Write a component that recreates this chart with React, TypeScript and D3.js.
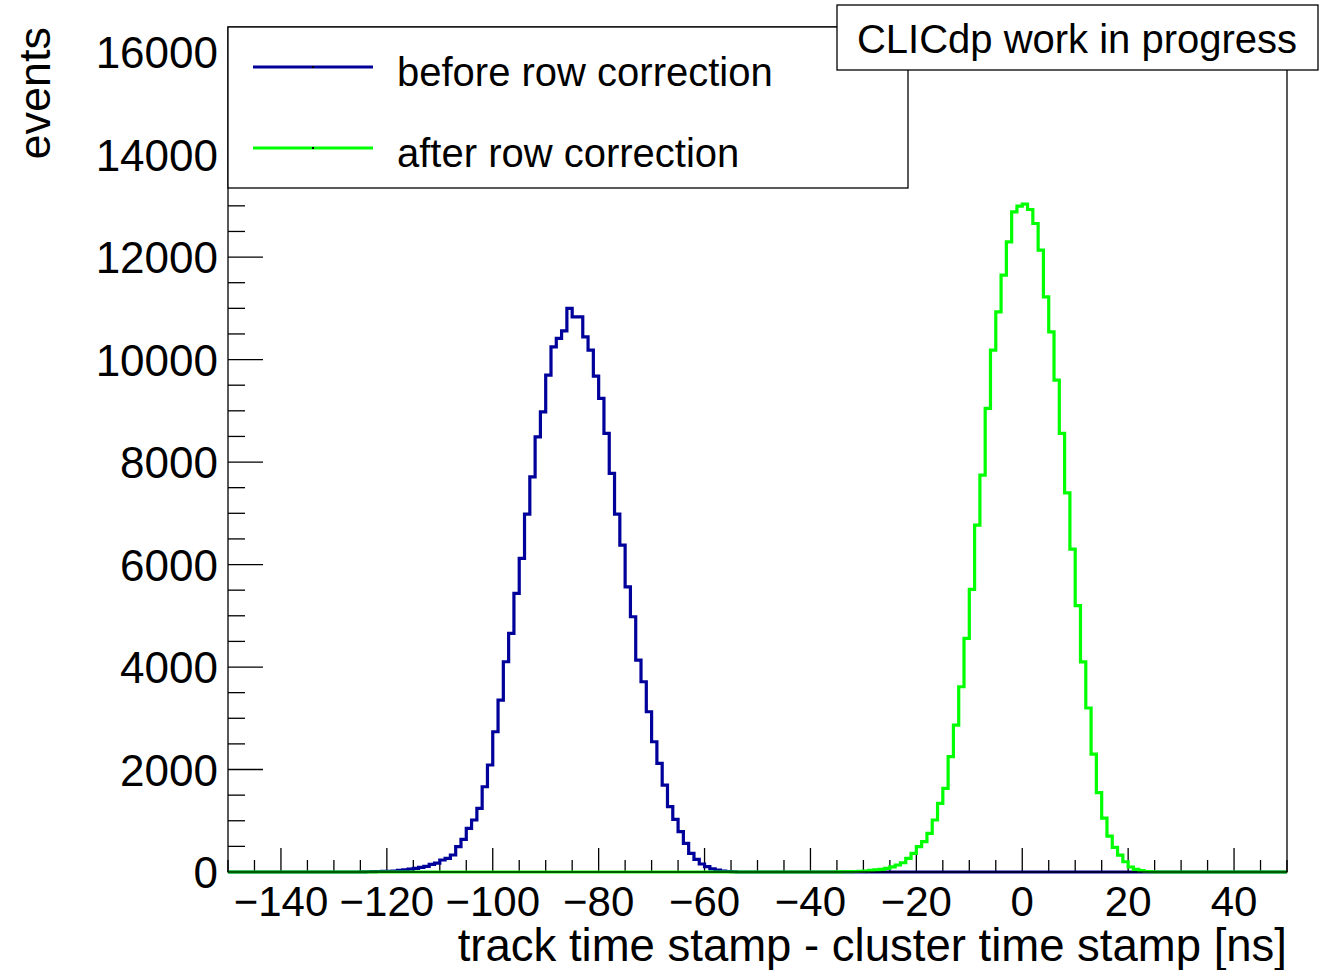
import React from 'react';
import * as d3 from 'd3';

const W = 1320;
const H = 970;
const margin = { top: 27, right: 33, bottom: 98, left: 228 };

// histogram range and bins (1 ns)
const xRange = [-150, 50];
const binWidth = 1;
const yTop = 16490;

// before row correction, first bin edge -125 ns
const beforeStart = -125;
const beforeCounts = [
  3, 5, 8, 10, 12, 15, 20, 30, 40, 55,
  70, 90, 110, 150, 175, 234, 267, 332, 494, 638,
  853, 1015, 1243, 1664, 2088, 2737, 3356, 4103, 4657, 5437,
  6120, 6985, 7712, 8493, 8980, 9696, 10249, 10412, 10561, 10998,
  10834, 10834, 10444, 10184, 9677, 9242, 8559, 7778, 6985, 6380,
  5566, 4981, 4136, 3713, 3127, 2542, 2120, 1697, 1274, 1028,
  786, 560, 365, 248, 156, 103, 60, 35, 20, 10, 5,
];

// after row correction, first bin edge -35 ns
const afterStart = -35;
const afterCounts = [
  3, 5, 8, 10, 15, 20, 30, 40, 50, 70,
  100, 137, 181, 267, 365, 494, 591, 755, 1015, 1340,
  1633, 2250, 2868, 3615, 4559, 5515, 6770, 7746, 9047, 10184,
  10931, 11647, 12297, 12882, 12993, 13033, 12929, 12655, 12135, 11224,
  10541, 9599, 8559, 7400, 6300, 5200, 4100, 3200, 2300, 1550,
  1050, 700, 480, 330, 200, 98, 50, 25, 10, 5,
];

const xMajor = [-140, -120, -100, -80, -60, -40, -20, 0, 20, 40];
const yMajor = [0, 2000, 4000, 6000, 8000, 10000, 12000, 14000, 16000];

const seriesNames = ['before row correction', 'after row correction'];
const seriesColors = ['#00009a', '#00ff00'];

const font = '"Liberation Sans", Arial, Helvetica, sans-serif';

function fullBins(start: number, counts: number[]) {
  const n = Math.round((xRange[1] - xRange[0]) / binWidth);
  const pts: [number, number][] = d3.range(n).map(i => {
    const edge = xRange[0] + i * binWidth;
    const k = Math.round((edge - start) / binWidth);
    return [edge, k >= 0 && k < counts.length ? counts[k] : 0];
  });
  pts.push([xRange[1], pts[pts.length - 1][1]]);
  return pts;
}

const App = () => {
  const x = d3.scaleLinear().domain(xRange).range([margin.left, W - margin.right]);
  const y = d3.scaleLinear().domain([0, yTop]).range([H - margin.bottom, margin.top]);
  const y0 = y(0);

  const line = d3.line<[number, number]>()
    .x(d => x(d[0]))
    .y(d => y(d[1]))
    .curve(d3.curveStepAfter);

  const paths = [fullBins(beforeStart, beforeCounts), fullBins(afterStart, afterCounts)].map(b => line(b) || '');

  const fmt = d3.format('');
  const xMinor = d3.range(xRange[0], xRange[1] + 0.01, 5).filter(v => !xMajor.includes(v));
  const yMinor = d3.range(0, yTop, 500).filter(v => !yMajor.includes(v));

  const legX = margin.left, legY = margin.top, legW = 680, legH = 161;

  return (
    <svg width={W} height={H} style={{ position: 'absolute', left: 0, top: 0, background: '#fff' }} fontFamily={font}>
      <rect x={0} y={0} width={W} height={H} fill="#fff" />

      {/* ticks */}
      {xMajor.map(v => (
        <line key={'xm' + v} x1={x(v)} x2={x(v)} y1={y0} y2={y0 - 24} stroke="#000" strokeWidth={1.3} />
      ))}
      {xMinor.map(v => (
        <line key={'xn' + v} x1={x(v)} x2={x(v)} y1={y0} y2={y0 - 12} stroke="#000" strokeWidth={1.3} />
      ))}
      {yMajor.map(v => (
        <line key={'ym' + v} x1={margin.left} x2={margin.left + 35} y1={y(v)} y2={y(v)} stroke="#000" strokeWidth={1.3} />
      ))}
      {yMinor.map(v => (
        <line key={'yn' + v} x1={margin.left} x2={margin.left + 17} y1={y(v)} y2={y(v)} stroke="#000" strokeWidth={1.3} />
      ))}

      {/* histograms */}
      {paths.map((p, i) => (
        <path key={i} d={p} fill="none" stroke={seriesColors[i]} strokeWidth={3.2} strokeLinejoin="miter" />
      ))}

      {/* frame */}
      <rect x={margin.left} y={margin.top} width={W - margin.left - margin.right} height={H - margin.top - margin.bottom}
        fill="none" stroke="#000" strokeWidth={1.3} />

      {/* tick labels */}
      {yMajor.map(v => (
        <text key={'yl' + v} x={218} y={y(v) + 16} textAnchor="end" fontSize={44} fill="#000">{fmt(v)}</text>
      ))}
      {xMajor.map(v => (
        <text key={'xl' + v} x={x(v)} y={916} textAnchor="middle" fontSize={42} fill="#000">{fmt(v)}</text>
      ))}

      {/* axis titles */}
      <text x={W - margin.right} y={961} textAnchor="end" fontSize={45.5} fill="#000">
        track time stamp - cluster time stamp [ns]
      </text>
      <text transform={`translate(50, ${margin.top}) rotate(-90)`} textAnchor="end" fontSize={45} fill="#000">events</text>

      {/* legend */}
      <rect x={legX} y={legY} width={legW} height={legH} fill="#fff" stroke="#000" strokeWidth={1.3} />
      {seriesNames.map((name, i) => {
        const cy = legY + 40 + i * 81;
        return (
          <g key={name}>
            <line x1={253} x2={373} y1={cy} y2={cy} stroke={seriesColors[i]} strokeWidth={3} />
            <rect x={312} y={cy - 1} width={2} height={2} fill="#000" />
            <text x={397} y={cy + 19} fontSize={40} fill="#000">{name}</text>
          </g>
        );
      })}

      {/* label box */}
      <rect x={837} y={5} width={481} height={65} fill="#fff" stroke="#000" strokeWidth={1.3} />
      <text x={1077} y={53} textAnchor="middle" fontSize={40} fill="#000">CLICdp work in progress</text>
    </svg>
  );
};

export default App;
